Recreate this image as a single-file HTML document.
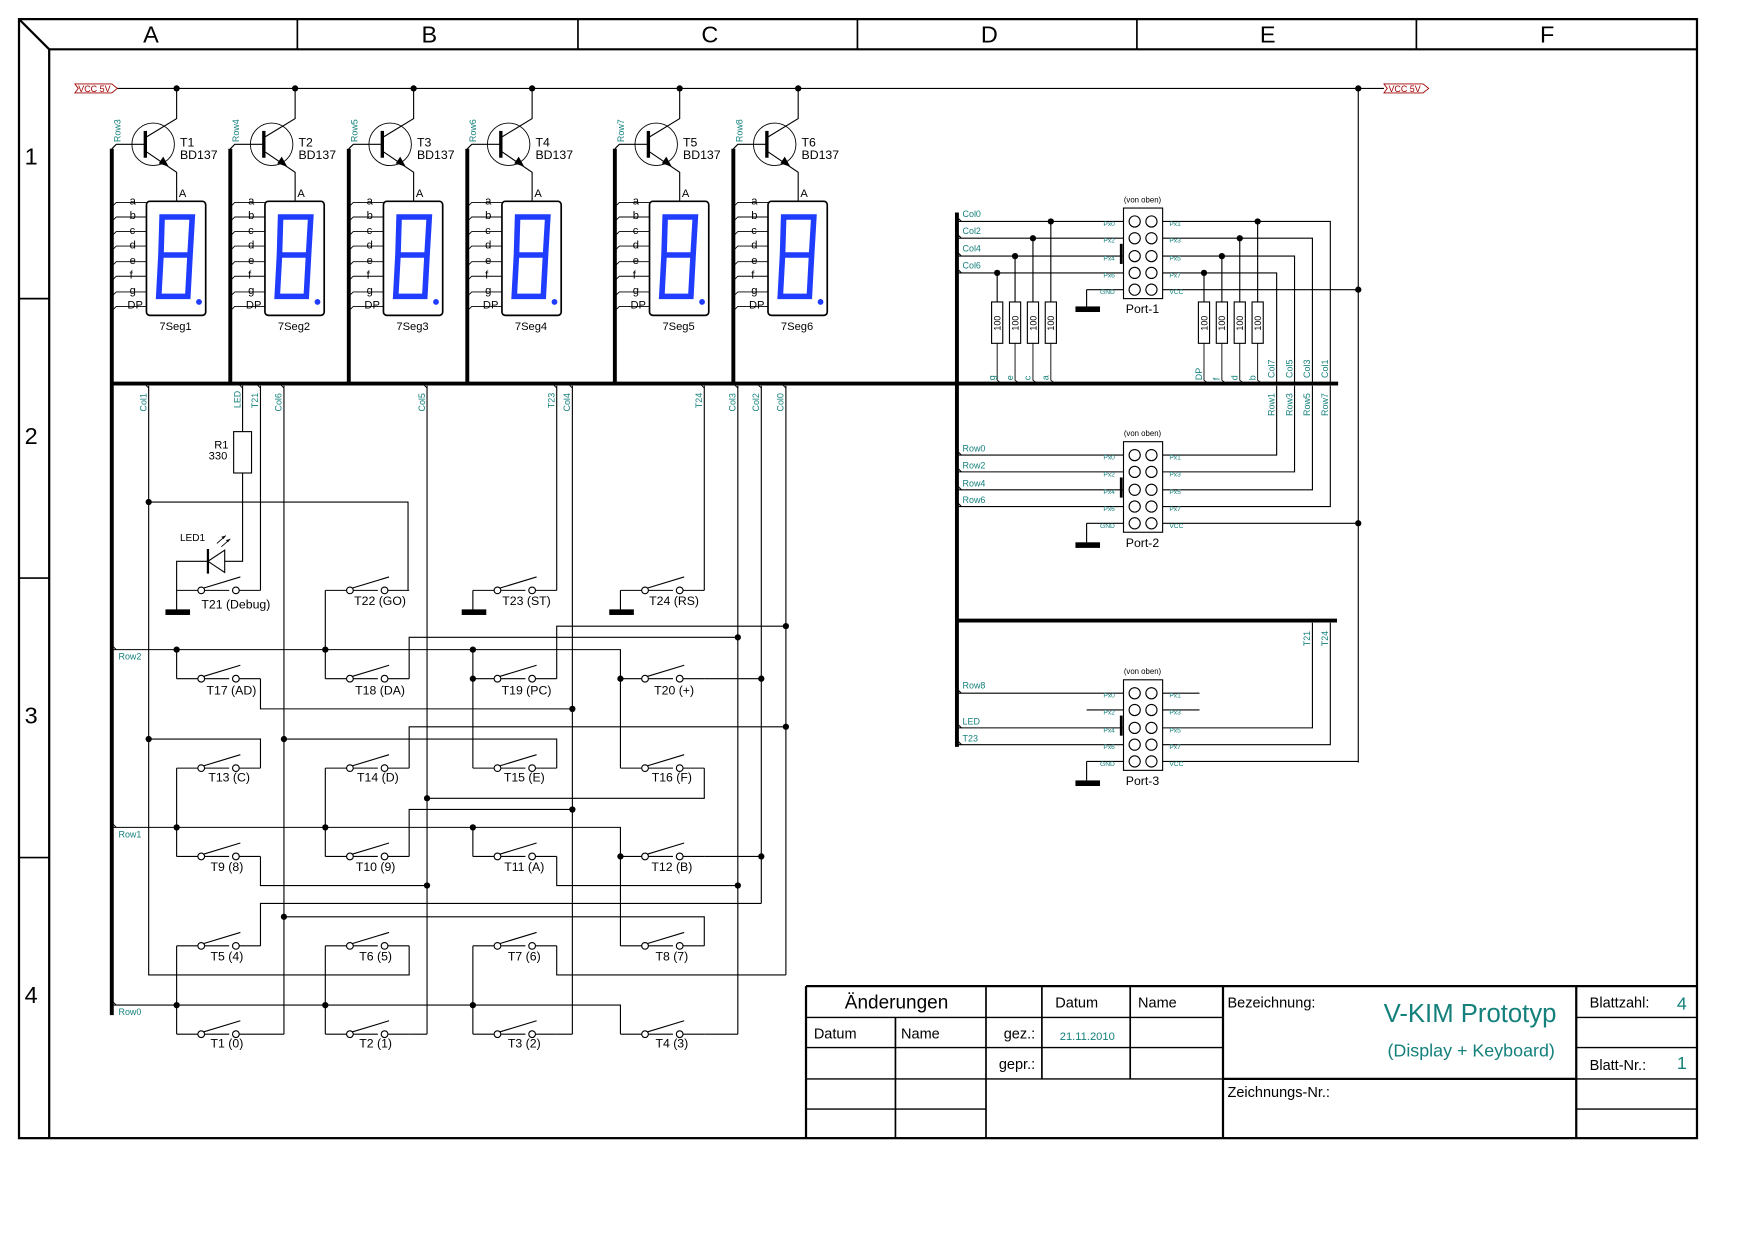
<!DOCTYPE html>
<html><head><meta charset="utf-8"><style>
html,body{margin:0;padding:0;background:#fff}
svg{display:block}
text{font-family:"Liberation Sans",Arial,sans-serif}
.t{fill:#14807c}
.k{fill:#000}
</style></head><body>
<svg width="1754" height="1240" viewBox="0 0 1569 1109" xmlns="http://www.w3.org/2000/svg">
<defs>
<g id="sw" fill="none" stroke="#000" stroke-width="1">
<path d="M0 0H19M25 0H47M53 0"/>
<path d="M56 0H75"/>
<circle cx="22" cy="0" r="3" fill="#fff"/>
<circle cx="53" cy="0" r="3" fill="#fff"/>
<path d="M24 -2L57 -12"/>
</g>
<g id="seg">
<rect x="31" y="180" width="53" height="102" rx="3" fill="#fff" stroke="#000" stroke-width="1.5"/>
<g fill="none" stroke="#1f3cff" stroke-width="5" stroke-linejoin="miter">
<path d="M45 194H72L70 228H44ZM44 228L42 265H68L70 228"/>
</g>
<circle cx="78" cy="270" r="2.6" fill="#1f3cff"/>
<path d="M0 185l4 -4H31M0 198l4 -4H31M0 211l4 -4H31M0 224l4 -4H31M0 238l4 -4H31M0 251l4 -4H31M0 265l4 -4H31M0 278l4 -4H31" fill="none" stroke="#000" stroke-width="0.8"/>
<g font-size="10" font-family="Liberation Sans, sans-serif">
<text x="16" y="183">a</text><text x="16" y="196">b</text><text x="16" y="209">c</text><text x="16" y="222">d</text><text x="16" y="236">e</text><text x="16" y="249">f</text><text x="16" y="263">g</text><text x="14" y="276">DP</text>
<text x="60" y="176">A</text>
</g>
<circle cx="37" cy="129" r="19" fill="none" stroke="#000" stroke-width="0.8"/>
<path d="M30 117V141" stroke="#000" stroke-width="3"/>
<path d="M0 133l4 -4H30M30 123L58 106V79M30 135L58 154V180" fill="none" stroke="#000" stroke-width="1"/>
<path d="M51 149l-9 -3 4 -6z" fill="#000"/>
<circle cx="58" cy="79" r="2.8" fill="#000"/>
</g>
<g id="res">
<rect x="-5" y="270" width="10" height="37" fill="#fff" stroke="#000" stroke-width="1"/>
<path d="M0 307V340l4 3" fill="none" stroke="#000" stroke-width="0.8"/>
</g>
<g id="gnd"><rect x="-10" y="-3" width="22" height="5" fill="#000"/></g>
</defs>

<!-- frame -->
<g fill="none" stroke="#000" stroke-width="2">
<rect x="17" y="17" width="1501" height="1001"/>
<path d="M44 44H1518M44 44V1018M17 17L44 44"/>
</g>
<g stroke="#000" stroke-width="1.5">
<path d="M266 17V44M517 17V44M767 17V44M1017 17V44M1267 17V44M17 267H44M17 517H44M17 767H44"/>
</g>
<g font-size="21">
<text x="135" y="38" text-anchor="middle">A</text>
<text x="384" y="38" text-anchor="middle">B</text>
<text x="635" y="38" text-anchor="middle">C</text>
<text x="885" y="38" text-anchor="middle">D</text>
<text x="1134" y="38" text-anchor="middle">E</text>
<text x="1384" y="38" text-anchor="middle">F</text>
<text x="22" y="147">1</text><text x="22" y="397">2</text><text x="22" y="647">3</text><text x="22" y="897">4</text>
</g>

<!-- VCC -->
<path d="M105 79H1238M1215 79V682" stroke="#000" stroke-width="1" fill="none"/>
<circle cx="1215" cy="79" r="2.8"/>
<g fill="none" stroke="#a00000" stroke-width="0.8">
<path d="M67 75H100L105 79L100 83H67L70 79Z"/>
<path d="M1238 75H1273L1278 79L1273 83H1238L1241 79Z"/>
</g>
<g font-size="8" fill="#a00000"><text x="70" y="82">VCC 5V</text><text x="1242" y="82">VCC 5V</text></g>

<!-- displays -->
<g transform="translate(100,0)"><use href="#seg"/></g>
<g transform="translate(206,0)"><use href="#seg"/></g>
<g transform="translate(312,0)"><use href="#seg"/></g>
<g transform="translate(418,0)"><use href="#seg"/></g>
<g transform="translate(550,0)"><use href="#seg"/></g>
<g transform="translate(656,0)"><use href="#seg"/></g>
<g font-size="11">
<text x="161" y="131">T1</text><text x="161" y="142">BD137</text><text x="157" y="295" text-anchor="middle" font-size="10">7Seg1</text>
<text x="267" y="131">T2</text><text x="267" y="142">BD137</text><text x="263" y="295" text-anchor="middle" font-size="10">7Seg2</text>
<text x="373" y="131">T3</text><text x="373" y="142">BD137</text><text x="369" y="295" text-anchor="middle" font-size="10">7Seg3</text>
<text x="479" y="131">T4</text><text x="479" y="142">BD137</text><text x="475" y="295" text-anchor="middle" font-size="10">7Seg4</text>
<text x="611" y="131">T5</text><text x="611" y="142">BD137</text><text x="607" y="295" text-anchor="middle" font-size="10">7Seg5</text>
<text x="717" y="131">T6</text><text x="717" y="142">BD137</text><text x="713" y="295" text-anchor="middle" font-size="10">7Seg6</text>
</g>
<g font-size="8" class="t">
<text transform="translate(108,127) rotate(-90)">Row3</text>
<text transform="translate(214,127) rotate(-90)">Row4</text>
<text transform="translate(320,127) rotate(-90)">Row5</text>
<text transform="translate(426,127) rotate(-90)">Row6</text>
<text transform="translate(558,127) rotate(-90)">Row7</text>
<text transform="translate(664,127) rotate(-90)">Row8</text>
</g>

<!-- busses -->
<g stroke="#000" stroke-width="3.5" fill="none">
<path d="M100 133V908M206 133V343M312 133V343M418 133V343M550 133V343M656 133V343"/>
<path d="M100 343H1197"/>
<path d="M856 190V668M856 555H1196"/>
</g>

<!-- keyboard wiring -->
<g stroke="#000" stroke-width="1" fill="none">
<path d="M133 345V872H366V846M133 449H365V528M133 661H233V687"/>
<path d="M217 345V386M217 423V502H158V547M233 345V528"/>
<path d="M254 345V925M382 345V925M512 345V925M660 345V925M681 345V808M703 345V872"/>
<path d="M498 345V528M630 345V528M423 528V547M555 528V547"/>
<path d="M100 581H555V687M158 581V607M291 528V607M423 581V687"/>
<path d="M100 740H555V846M158 687V766M291 687V766M423 740V766"/>
<path d="M100 899H555V925M158 846V925M291 846V925M423 846V925"/>
<path d="M233 607V634H512M366 607V570H660M498 607V560H703M630 607H681"/>
<path d="M366 687V650H703M498 687V661H254M630 687V714H382"/>
<path d="M233 766V792H382M366 766V724H512M498 766V792H660M630 766H681"/>
<path d="M233 846V808H681M498 846V872H703M630 846V820H254"/>
<path d="M233 925H254M366 925H382M498 925H512M630 925H660"/>
</g>
<!-- tags at bus -->
<g stroke="#000" stroke-width="0.8" fill="none">
<path d="M129 343l4 4M213 343l4 4M229 343l4 4M250 343l4 4M378 343l4 4M494 343l4 4M508 343l4 4M626 343l4 4M656 343l4 4M677 343l4 4M699 343l4 4"/>
<path d="M100 577l4 4M100 736l4 4M100 895l4 4"/>
</g>
<g font-size="8" class="t">
<text transform="translate(131,368) rotate(-90)">Col1</text>
<text transform="translate(215,365) rotate(-90)">LED</text>
<text transform="translate(231,365) rotate(-90)">T21</text>
<text transform="translate(252,368) rotate(-90)">Col6</text>
<text transform="translate(380,368) rotate(-90)">Col5</text>
<text transform="translate(496,365) rotate(-90)">T23</text>
<text transform="translate(510,368) rotate(-90)">Col4</text>
<text transform="translate(628,365) rotate(-90)">T24</text>
<text transform="translate(658,368) rotate(-90)">Col3</text>
<text transform="translate(679,368) rotate(-90)">Col2</text>
<text transform="translate(701,368) rotate(-90)">Col0</text>
<text x="106" y="590">Row2</text><text x="106" y="749">Row1</text><text x="106" y="908">Row0</text>
</g>
<!-- R1 / LED -->
<rect x="209" y="386" width="16" height="37" fill="#fff" stroke="#000"/>
<text x="198" y="401" font-size="10" text-anchor="middle">R1</text>
<text x="195" y="411" font-size="10" text-anchor="middle">330</text>
<path d="M201 492V512L186 502Z" fill="#fff" stroke="#000"/>
<path d="M186 491V513" stroke="#000" stroke-width="2"/>
<path d="M194 486l8 -7M198 489l8 -7" stroke="#000" stroke-width="0.8"/>
<path d="M202 479l-4 1 2 2zM206 482l-4 1 2 2z" fill="#000"/>
<text x="161" y="484" font-size="9">LED1</text>
<!-- grounds -->
<use href="#gnd" x="158" y="548"/><use href="#gnd" x="423" y="548"/><use href="#gnd" x="555" y="548"/>
<!-- switches -->
<use href="#sw" x="158" y="528"/><use href="#sw" x="291" y="528"/><use href="#sw" x="423" y="528"/><use href="#sw" x="555" y="528"/>
<use href="#sw" x="158" y="607"/><use href="#sw" x="291" y="607"/><use href="#sw" x="423" y="607"/><use href="#sw" x="555" y="607"/>
<use href="#sw" x="158" y="687"/><use href="#sw" x="291" y="687"/><use href="#sw" x="423" y="687"/><use href="#sw" x="555" y="687"/>
<use href="#sw" x="158" y="766"/><use href="#sw" x="291" y="766"/><use href="#sw" x="423" y="766"/><use href="#sw" x="555" y="766"/>
<use href="#sw" x="158" y="846"/><use href="#sw" x="291" y="846"/><use href="#sw" x="423" y="846"/><use href="#sw" x="555" y="846"/>
<use href="#sw" x="158" y="925"/><use href="#sw" x="291" y="925"/><use href="#sw" x="423" y="925"/><use href="#sw" x="555" y="925"/>
<g font-size="11" text-anchor="middle">
<text x="211" y="544">T21 (Debug)</text><text x="340" y="541">T22 (GO)</text><text x="471" y="541">T23 (ST)</text><text x="603" y="541">T24 (RS)</text>
<text x="207" y="621">T17 (AD)</text><text x="340" y="621">T18 (DA)</text><text x="471" y="621">T19 (PC)</text><text x="603" y="621">T20 (+)</text>
<text x="205" y="699">T13 (C)</text><text x="338" y="699">T14 (D)</text><text x="469" y="699">T15 (E)</text><text x="601" y="699">T16 (F)</text>
<text x="203" y="779">T9 (8)</text><text x="336" y="779">T10 (9)</text><text x="469" y="779">T11 (A)</text><text x="601" y="779">T12 (B)</text>
<text x="203" y="859">T5 (4)</text><text x="336" y="859">T6 (5)</text><text x="469" y="859">T7 (6)</text><text x="601" y="859">T8 (7)</text>
<text x="203" y="937">T1 (0)</text><text x="336" y="937">T2 (1)</text><text x="469" y="937">T3 (2)</text><text x="601" y="937">T4 (3)</text>
</g>
<!-- dots -->
<g fill="#000">
<circle cx="133" cy="449" r="2.8"/><circle cx="133" cy="661" r="2.8"/><circle cx="254" cy="661" r="2.8"/><circle cx="254" cy="820" r="2.8"/>
<circle cx="158" cy="581" r="2.8"/><circle cx="291" cy="581" r="2.8"/><circle cx="423" cy="581" r="2.8"/>
<circle cx="423" cy="607" r="2.8"/><circle cx="555" cy="607" r="2.8"/>
<circle cx="158" cy="740" r="2.8"/><circle cx="291" cy="740" r="2.8"/><circle cx="423" cy="740" r="2.8"/><circle cx="555" cy="766" r="2.8"/>
<circle cx="158" cy="899" r="2.8"/><circle cx="291" cy="899" r="2.8"/><circle cx="423" cy="899" r="2.8"/>
<circle cx="512" cy="634" r="2.8"/><circle cx="660" cy="570" r="2.8"/><circle cx="703" cy="560" r="2.8"/><circle cx="681" cy="607" r="2.8"/>
<circle cx="703" cy="650" r="2.8"/><circle cx="382" cy="714" r="2.8"/><circle cx="382" cy="792" r="2.8"/><circle cx="512" cy="724" r="2.8"/>
<circle cx="660" cy="792" r="2.8"/><circle cx="681" cy="766" r="2.8"/>
</g>

<!-- right side: Port 1 -->
<g stroke="#000" stroke-width="1" fill="none">
<path d="M856 198H1005M856 213H1005M856 229H1005M856 244H1005"/>
<path d="M972 259H1005V259M972 259V275"/>
<path d="M1040 198H1190V343M1040 213H1174V343M1040 229H1158V343M1040 244H1142V343M1040 259H1215"/>
<path d="M892 244V270M908 229V270M924 213V270M940 198V270M1077 244V270M1093 229V270M1109 213V270M1125 198V270"/>
<path d="M1142 345V407H1040M1158 345V422H1040M1174 345V438H1040M1190 345V453H1040M1040 468H1215"/>
<path d="M856 407H1005M856 422H1005M856 438H1005M856 453H1005M972 468H1005M972 468V485"/>
<path d="M856 620H1005M972 635H1005M856 651H1005M856 666H1005M972 681H1005M972 681V698"/>
<path d="M1040 620H1073M1040 635H1073M1040 651H1174V557M1040 666H1190V557M1040 681H1215"/>
<path d="M856 194l4 4M856 209l4 4M856 225l4 4M856 240l4 4M856 403l4 4M856 418l4 4M856 434l4 4M856 449l4 4M856 616l4 4M856 647l4 4M856 662l4 4"/>
</g>
<use href="#res" x="892"/><use href="#res" x="908"/><use href="#res" x="924"/><use href="#res" x="940"/>
<use href="#res" x="1077"/><use href="#res" x="1093"/><use href="#res" x="1109"/><use href="#res" x="1125"/>
<g font-size="8" text-anchor="middle">
<text transform="translate(895,289) rotate(-90)">100</text><text transform="translate(911,289) rotate(-90)">100</text>
<text transform="translate(927,289) rotate(-90)">100</text><text transform="translate(943,289) rotate(-90)">100</text>
<text transform="translate(1080,289) rotate(-90)">100</text><text transform="translate(1096,289) rotate(-90)">100</text>
<text transform="translate(1112,289) rotate(-90)">100</text><text transform="translate(1128,289) rotate(-90)">100</text>
</g>
<g font-size="8" class="t">
<text transform="translate(890,340) rotate(-90)">g</text><text transform="translate(906,340) rotate(-90)">e</text>
<text transform="translate(922,340) rotate(-90)">c</text><text transform="translate(938,340) rotate(-90)">a</text>
<text transform="translate(1075,340) rotate(-90)">DP</text><text transform="translate(1091,340) rotate(-90)">f</text>
<text transform="translate(1107,340) rotate(-90)">d</text><text transform="translate(1123,340) rotate(-90)">b</text>
<text transform="translate(1140,338) rotate(-90)">Col7</text><text transform="translate(1156,338) rotate(-90)">Col5</text>
<text transform="translate(1172,338) rotate(-90)">Col3</text><text transform="translate(1188,338) rotate(-90)">Col1</text>
<text transform="translate(1140,372) rotate(-90)">Row1</text><text transform="translate(1156,372) rotate(-90)">Row3</text>
<text transform="translate(1172,372) rotate(-90)">Row5</text><text transform="translate(1188,372) rotate(-90)">Row7</text>
<text transform="translate(1172,578) rotate(-90)">T21</text><text transform="translate(1188,578) rotate(-90)">T24</text>
<text x="861" y="194">Col0</text><text x="861" y="209">Col2</text><text x="861" y="225">Col4</text><text x="861" y="240">Col6</text>
<text x="861" y="404">Row0</text><text x="861" y="419">Row2</text><text x="861" y="435">Row4</text><text x="861" y="450">Row6</text>
<text x="861" y="616">Row8</text><text x="861" y="648">LED</text><text x="861" y="663">T23</text>
</g>
<g fill="#000">
<circle cx="940" cy="198" r="2.8"/><circle cx="924" cy="213" r="2.8"/><circle cx="908" cy="229" r="2.8"/><circle cx="892" cy="244" r="2.8"/>
<circle cx="1125" cy="198" r="2.8"/><circle cx="1109" cy="213" r="2.8"/><circle cx="1093" cy="229" r="2.8"/><circle cx="1077" cy="244" r="2.8"/>
<circle cx="1215" cy="259" r="2.8"/><circle cx="1215" cy="468" r="2.8"/>
</g>
<use href="#gnd" x="972" y="277"/><use href="#gnd" x="972" y="488"/><use href="#gnd" x="972" y="701"/>

<!-- port boxes -->
<g id="p1">
<rect x="1005" y="186" width="35" height="81" fill="none" stroke="#000"/>
<path d="M1003 218V236" stroke="#000" stroke-width="2.5"/>
<g fill="#fff" stroke="#000"><circle cx="1015" cy="198" r="5"/><circle cx="1030" cy="198" r="5"/><circle cx="1015" cy="213" r="5"/><circle cx="1030" cy="213" r="5"/><circle cx="1015" cy="229" r="5"/><circle cx="1030" cy="229" r="5"/><circle cx="1015" cy="244" r="5"/><circle cx="1030" cy="244" r="5"/><circle cx="1015" cy="259" r="5"/><circle cx="1030" cy="259" r="5"/></g>
</g>
<use href="#p1" y="209"/><use href="#p1" y="422"/>
<g font-size="6" class="t">
<text x="987" y="202">Px0</text><text x="987" y="217">Px2</text><text x="987" y="233">Px4</text><text x="987" y="248">Px6</text><text x="984" y="263">GND</text>
<text x="1046" y="202">Px1</text><text x="1046" y="217">Px3</text><text x="1046" y="233">Px5</text><text x="1046" y="248">Px7</text><text x="1046" y="263">VCC</text>
<text x="987" y="411">Px0</text><text x="987" y="426">Px2</text><text x="987" y="442">Px4</text><text x="987" y="457">Px6</text><text x="984" y="472">GND</text>
<text x="1046" y="411">Px1</text><text x="1046" y="426">Px3</text><text x="1046" y="442">Px5</text><text x="1046" y="457">Px7</text><text x="1046" y="472">VCC</text>
<text x="987" y="624">Px0</text><text x="987" y="639">Px2</text><text x="987" y="655">Px4</text><text x="987" y="670">Px6</text><text x="984" y="685">GND</text>
<text x="1046" y="624">Px1</text><text x="1046" y="639">Px3</text><text x="1046" y="655">Px5</text><text x="1046" y="670">Px7</text><text x="1046" y="685">VCC</text>
</g>
<g font-size="7" text-anchor="middle"><text x="1022" y="181">(von oben)</text><text x="1022" y="390">(von oben)</text><text x="1022" y="603">(von oben)</text></g>
<g font-size="11" text-anchor="middle"><text x="1022" y="280">Port-1</text><text x="1022" y="489">Port-2</text><text x="1022" y="702">Port-3</text></g>

<!-- title block -->
<g stroke="#000" fill="none">
<path d="M721 882H1518M721 882V1018M1094 882V1018M1410 882V1018" stroke-width="2"/>
<path d="M1094 965H1410" stroke-width="2"/>
<path d="M882 882V1018M932 882V965M1011 882V965M801 910V1018" stroke-width="1.5"/>
<path d="M721 910H1094M721 937H1094M721 965H1094M721 992H882M1410 910H1518M1410 937H1518M1410 965H1518M1410 992H1518" stroke-width="1.2"/>
</g>
<g font-size="13">
<text x="802" y="902" text-anchor="middle" font-size="17">Änderungen</text>
<text x="944" y="901">Datum</text><text x="1018" y="901">Name</text>
<text x="728" y="929">Datum</text><text x="806" y="929">Name</text>
<text x="926" y="929" text-anchor="end">gez.:</text><text x="926" y="956" text-anchor="end">gepr.:</text>
<text x="1098" y="901">Bezeichnung:</text><text x="1098" y="981">Zeichnungs-Nr.:</text>
<text x="1422" y="901">Blattzahl:</text><text x="1422" y="957">Blatt-Nr.:</text>
</g>
<text x="948" y="930" font-size="10" class="t">21.11.2010</text>
<text x="1315" y="914" font-size="23" text-anchor="middle" class="t">V-KIM Prototyp</text>
<text x="1316" y="945" font-size="16" text-anchor="middle" class="t">(Display + Keyboard)</text>
<text x="1500" y="903" font-size="16" class="t">4</text>
<text x="1500" y="956" font-size="16" class="t">1</text>
</svg>
</body></html>
